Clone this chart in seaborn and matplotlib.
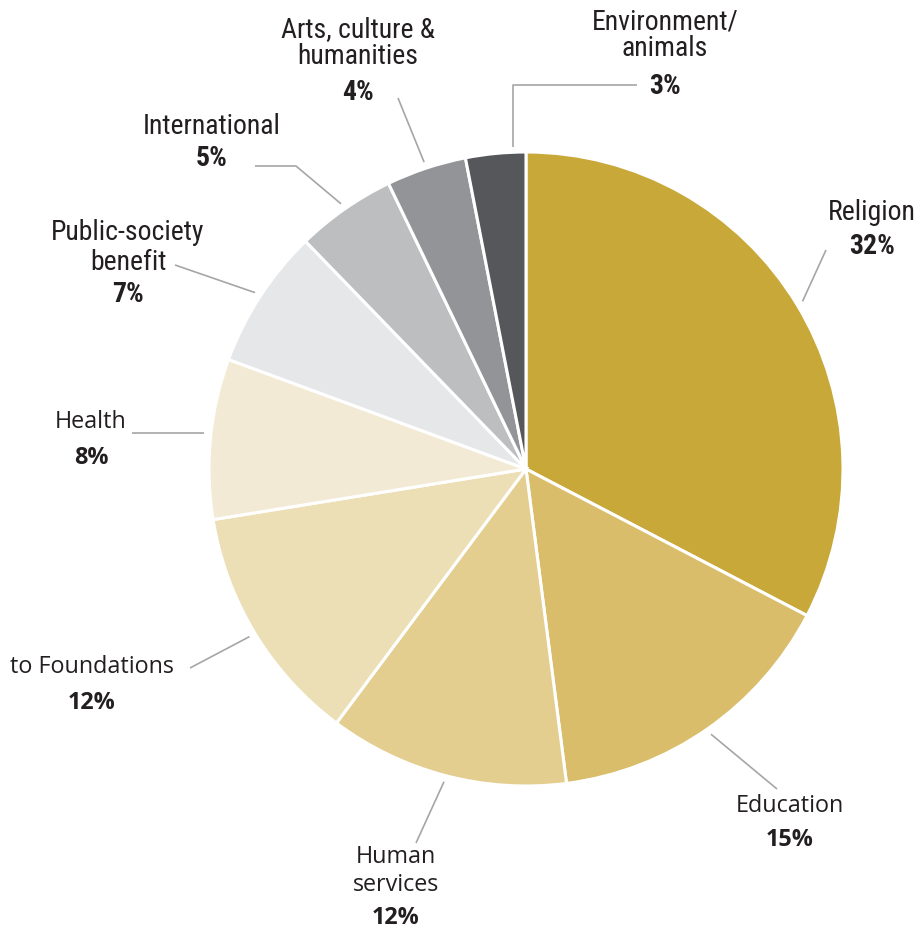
import numpy as np
import matplotlib
matplotlib.use("Agg")
import matplotlib.pyplot as plt
import seaborn as sns

# Giving by recipient type (percent of total)
categories = ["Religion", "Education", "Human\nservices", "to Foundations", "Health",
              "Public-society\nbenefit", "International", "Arts, culture &\nhumanities",
              "Environment/\nanimals"]
values = [32, 15, 12, 12, 8, 7, 5, 4, 3]
pct_labels = ["32%", "15%", "12%", "12%", "8%", "7%", "5%", "4%", "3%"]
colors = ["#C9A83A", "#D9BD6B", "#E3CE90", "#EDDFB5", "#F3EAD5",
          "#E6E7E9", "#BDBEC0", "#929497", "#55575B"]

sns.set_theme(style="white")
plt.rcParams["font.family"] = ["DejaVu Sans"]

NARROW = ["Roboto Condensed", "PT Sans Narrow", "Open Sans Condensed",
          "Liberation Sans Narrow", "DejaVu Sans"]
REGULAR = ["Open Sans", "DejaVu Sans"]

W, H = 917, 932
fig = plt.figure(figsize=(W / 100, H / 100), dpi=100)
ax = fig.add_axes([0, 0, 1, 1])

cx, cy, R = 526, 469, 317
# y axis is inverted below, so a counter-clockwise pie appears clockwise
wedges, _ = ax.pie(values, colors=colors, startangle=-90, counterclock=True,
                   center=(cx, cy), radius=R, frame=True,
                   wedgeprops=dict(edgecolor="white", linewidth=2.2))
ax.set_xlim(0, W)
ax.set_ylim(H, 0)
ax.set_aspect("equal")
ax.axis("off")

# label centre x, first-line y, line step, gap to percentage, font style, leader bends
layout = [
    dict(xy=(872, 213), step=27, gap=33, font="n", path=[(826, 250)]),
    dict(xy=(790, 806), step=27, gap=34, font="r", path=[(777, 789)]),
    dict(xy=(396, 857), step=28, gap=33, font="r", path=[(416, 843)]),
    dict(xy=(92, 667), step=27, gap=36, font="r", path=[(190, 668)]),
    dict(xy=(91, 422), step=27, gap=36, font="r", path=[(200, 433), (132, 433)]),
    dict(xy=(128, 232), step=30, gap=33, font="n", path=[(175, 265)]),
    dict(xy=(212, 126), step=27, gap=33, font="n", path=[(296, 166), (255, 166)]),
    dict(xy=(358, 30), step=27, gap=35, font="n", path=[(398, 98)]),
    dict(xy=(665, 22), step=26, gap=38, font="n", path=[(513, 85), (637, 85)]),
]

text_color = "#231F20"
lead_color = "#A6A6A6"

for w, name, pct, lay in zip(wedges, categories, pct_labels, layout):
    ang = np.deg2rad((w.theta1 + w.theta2) / 2)
    ax_x = cx + R * 1.02 * np.cos(ang)
    ax_y = cy + R * 1.02 * np.sin(ang)
    pts = lay["path"]
    if name.startswith("Environment"):
        ax_x = pts[0][0]
    if name == "Health":
        ax_y = pts[0][1]
    xs = [ax_x] + [p[0] for p in pts]
    ys = [ax_y] + [p[1] for p in pts]
    ax.plot(xs, ys, color=lead_color, lw=1.2, solid_capstyle="butt")

    fam = NARROW if lay["font"] == "n" else REGULAR
    fs = 20 if lay["font"] == "n" else 16.8
    tx, ty = lay["xy"]
    lines = name.split("\n")
    for k, ln in enumerate(lines):
        ax.text(tx, ty + k * lay["step"], ln, ha="center", va="center",
                fontsize=fs, color=text_color, family=fam)
    py = ty + (len(lines) - 1) * lay["step"] + lay["gap"]
    ax.text(tx, py, pct, ha="center", va="center", fontsize=fs,
            fontweight="bold", color=text_color, family=fam)

fig.savefig("out.png", dpi=100, facecolor="white")
